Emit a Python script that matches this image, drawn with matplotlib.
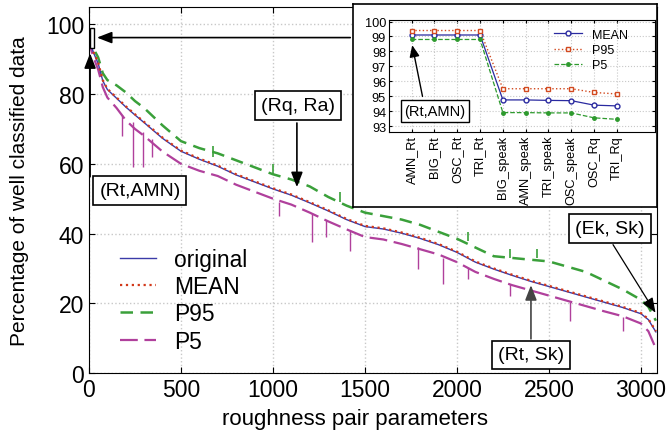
import matplotlib
matplotlib.use("Agg")
import matplotlib.pyplot as plt
from matplotlib.patches import Rectangle

plt.rcParams["font.family"] = ["Liberation Sans", "DejaVu Sans"]

# datos principales
x_pares = [0, 10, 25, 50, 75, 100, 150, 200, 250, 300,
           400, 500, 600, 700, 800, 900, 1000, 1100, 1200, 1300,
           1400, 1500, 1600, 1700, 1800, 1900, 2000, 2100, 2200, 2300,
           2400, 2500, 2600, 2700, 2800, 2900, 3000, 3040, 3081]
original = [97, 94.3, 91.8, 88.8, 83.8, 81.3, 78.8, 76.3, 74.0, 71.8,
            67.3, 63.6, 61.3, 59.3, 56.8, 54.8, 52.8, 51.0, 48.8, 46.5,
            44.0, 42.0, 41.3, 40.1, 38.6, 36.8, 34.6, 31.8, 29.8, 28.0,
            26.3, 24.8, 23.3, 21.8, 20.3, 18.8, 17.0, 15.3, 11.8]
media = [97, 94.5, 92, 89, 84, 81.5, 79, 76.5, 74.2, 72,
         67.5, 63.8, 61.5, 59.5, 57, 55, 53, 51.2, 49, 46.7,
         44.2, 42.2, 41.5, 40.3, 38.8, 37, 34.8, 32, 30, 28.2,
         26.5, 25, 23.5, 22, 20.5, 19, 17.2, 15.5, 12]
p95 = [97.5, 95, 93, 90.5, 86, 84, 82.5, 80.5, 78, 76,
       71, 66.5, 64.5, 63, 61, 59, 57, 55.5, 53.5, 50.5,
       48, 46, 45, 44, 42.5, 40.5, 38.5, 36, 33.5, 33,
       32.5, 32, 30.5, 29, 26.5, 24, 21, 19, 15]
p5 = [96.5, 93, 90.5, 87, 82, 79, 76, 72.5, 70, 68,
      63.5, 60, 58, 56.5, 54, 52, 50, 48.3, 46, 43.5,
      41.2, 39, 38.3, 37, 35.5, 34, 31.8, 29, 27, 25.2,
      23.7, 22.2, 20.7, 19.2, 17.7, 16.3, 14.2, 12, 7]

# picos hacia abajo de P5 y hacia arriba de P95
picos_p5_x = [180, 240, 293, 342, 1035, 1212, 1290, 1418, 1788, 1924, 2060, 2288, 2614, 2900]
picos_p5_sup = [74, 72, 69, 67, 49, 46, 44, 41, 36, 33, 30, 25.5, 20.5, 16]
picos_p5_inf = [68, 59, 59, 62, 45, 37.5, 39, 35, 29.8, 25.5, 27, 22, 15, 12]
picos_p95_x = [675, 1000, 1364, 2060, 2288, 2435]
picos_p95_sup = [65, 60, 52, 40.4, 35.5, 35.5]
picos_p95_inf = [62, 57, 49, 38, 33, 33]

# datos del recuadro
categorias = ["AMN_Rt", "BIG_Rt", "OSC_Rt", "TRI_Rt", "BIG_speak",
              "AMN_speak", "TRI_speak", "OSC_speak", "OSC_Rq", "TRI_Rq"]
rec_media = [99.1, 99.1, 99.1, 99.1, 94.75, 94.75, 94.72, 94.7, 94.4, 94.35]
rec_p95 = [99.4, 99.4, 99.4, 99.4, 95.5, 95.5, 95.5, 95.5, 95.25, 95.15]
rec_p5 = [98.8, 98.8, 98.8, 98.8, 93.9, 93.9, 93.88, 93.88, 93.55, 93.45]

c_azul = "#3b3ba8"
c_rojo = "#d2381a"
c_verde = "#3aa03a"
c_magenta = "#b0409c"

fig = plt.figure(figsize=(6.67, 4.39), dpi=100)
ax = fig.add_axes([0.1334, 0.148, 0.8516, 0.834])

ax.vlines(picos_p95_x, picos_p95_inf, picos_p95_sup, color=c_verde, lw=1.2)
ax.plot(x_pares, p95, color=c_verde, ls=(0, (5, 3)), lw=1.8, label="P95")
ax.vlines(picos_p5_x, picos_p5_inf, picos_p5_sup, color=c_magenta, lw=1.0)
ax.plot(x_pares, p5, color=c_magenta, ls=(0, (8, 3)), lw=1.6, label="P5")
ax.plot(x_pares, original, color=c_azul, lw=1.0, label="original")
ax.plot(x_pares, media, color=c_rojo, ls=":", lw=1.6, label="MEAN")

ax.set_xlim(0, 3087)
ax.set_ylim(0, 105)
ax.set_xticks(range(0, 3001, 500))
ax.set_yticks(range(0, 101, 20))
ax.tick_params(direction="in", labelsize=16.5, top=True, right=True, length=4)
ax.grid(True, ls=":", color="#c8c8c8", lw=1)
ax.set_xlabel("roughness pair parameters", fontsize=16)
ax.xaxis.set_label_coords(0.468, -0.095)
ax.set_ylabel("Percentage of well classified data", fontsize=15, labelpad=12)

h, l = ax.get_legend_handles_labels()
orden = [2, 3, 0, 1]
ax.legend([h[i] for i in orden], [l[i] for i in orden], loc="lower left",
          bbox_to_anchor=(0.018, 0.0), frameon=False, fontsize=16.4,
          handlelength=1.6, labelspacing=0.18)

# marcas y flechas
caja = dict(boxstyle="square,pad=0.3", fc="white", ec="black", lw=1.2)
flecha = dict(arrowstyle="-|>,head_length=0.9,head_width=0.35", color="black", lw=1.2)
ax.add_patch(Rectangle((5, 93.2), 22, 5.7, fc="white", ec="black", lw=1.0, zorder=5))
ax.annotate("", xy=(28, 96.2), xytext=(1435, 96.2), arrowprops=flecha, zorder=6)
ax.annotate("", xy=(6, 92.5), xytext=(6, 55.5), arrowprops=flecha, zorder=6)
ax.text(277, 52.4, "(Rt,AMN)", fontsize=14, ha="center", va="center", bbox=caja, zorder=7)
ax.annotate("", xy=(1130, 52.5), xytext=(1130, 72.5), arrowprops=flecha, zorder=6)
ax.text(1136, 76.8, "(Rq, Ra)", fontsize=14, ha="center", va="center", bbox=caja, zorder=7)
ax.annotate("", xy=(3087, 16.6), xytext=(2840, 37.5),
            arrowprops=dict(arrowstyle="-|>,head_length=0.9,head_width=0.35",
                            color="black", lw=0.9), zorder=6)
ax.text(2832, 41.5, "(Ek, Sk)", fontsize=14, ha="center", va="center", bbox=caja, zorder=7)
ax.annotate("", xy=(2402, 26), xytext=(2402, 9),
            arrowprops=dict(arrowstyle="-|>,head_length=0.9,head_width=0.35",
                            color="#444444", lw=1.2), zorder=6)
ax.text(2402, 5.2, "(Rt, Sk)", fontsize=14, ha="center", va="center", bbox=caja, zorder=7)

# recuadro exterior blanco
marco = fig.add_axes([0.529, 0.526, 0.456, 0.462])
marco.set_xticks([])
marco.set_yticks([])
marco.set_facecolor("white")
for s in marco.spines.values():
    s.set_linewidth(1.2)

# recuadro con los primeros valores
axi = fig.add_axes([0.583, 0.697, 0.399, 0.255])
pos = list(range(len(categorias)))
axi.plot(pos, rec_media, color="#2a2aa0", lw=0.9, marker="o", ms=3.5, mfc="white", label="MEAN")
axi.plot(pos, rec_p95, color="#d24a20", ls=":", lw=1.0, marker="s", ms=3.5, mfc="white", label="P95")
axi.plot(pos, rec_p5, color="#2e9a2e", ls="--", lw=0.9, marker="o", ms=2.5, label="P5")
axi.set_xlim(-1, 10.67)
axi.set_ylim(92.6, 100.1)
axi.set_yticks(range(93, 101))
axi.set_xticks(pos)
axi.set_xticklabels(categorias, rotation=90)
axi.tick_params(direction="in", labelsize=9.2, length=2, top=True, right=True, pad=2)
axi.grid(True, ls=":", color="#c8c8c8", lw=0.8)
axi.legend(loc="upper right", bbox_to_anchor=(0.93, 1.0), frameon=False, fontsize=9,
           handlelength=2.2, labelspacing=0.25, borderaxespad=0.3)
axi.annotate("", xy=(0, 98.6), xytext=(0.5, 94.8),
             arrowprops=dict(arrowstyle="-|>,head_length=0.7,head_width=0.3", color="black", lw=1.0))
axi.text(1.02, 94.0, "(Rt,AMN)", fontsize=10.5, ha="center", va="center",
         bbox=dict(boxstyle="square,pad=0.25", fc="white", ec="black", lw=1.0))

fig.savefig("out.png", dpi=100)
